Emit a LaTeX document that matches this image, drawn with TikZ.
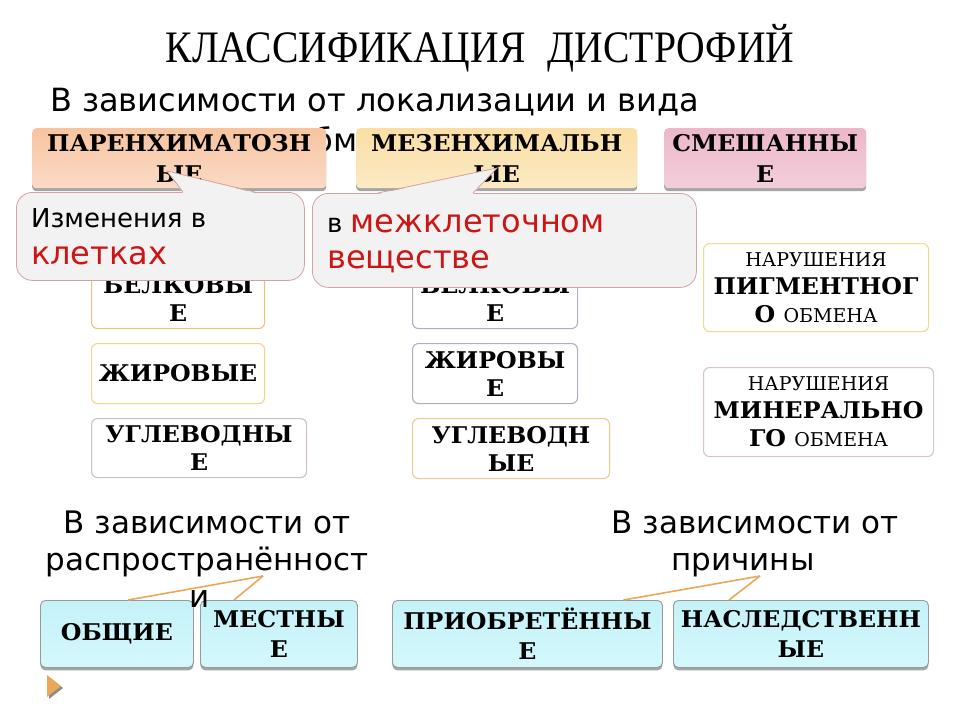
\documentclass[tikz,border=0pt]{standalone}
\usepackage{fontspec}
\setmainfont{DejaVu Sans}
\newfontfamily\titlefont[FakeStretch=0.88]{Liberation Serif}
\newfontfamily\bx[FakeStretch=1.03]{DejaVu Serif}
\newfontfamily\rgserif{DejaVu Serif}
\usetikzlibrary{shadows,calc,backgrounds}
\definecolor{treeor}{HTML}{ECA85A}
\definecolor{callfill}{HTML}{F2F2F2}
\definecolor{callline}{HTML}{D4A2A2}
\definecolor{redtxt}{HTML}{CC1616}
\definecolor{cyantop}{HTML}{C4F2F8}
\definecolor{cyanbot}{HTML}{D4F8FC}
\newcommand\regtxt[1]{{\rgserif\mdseries\fontsize{19}{28}\selectfont #1}}
\tikzset{
  hdr/.style={rounded corners=4pt, anchor=north west, inner sep=0pt, align=center,
    font=\bx\bfseries\fontsize{23}{31}\selectfont,
    drop shadow={shadow xshift=0pt, shadow yshift=-3pt, fill=black!50, opacity=0.7}},
  tbox/.style={line width=1.1pt, fill=white, rounded corners=6pt, anchor=north west,
    inner sep=0pt, align=center, font=\bx\bfseries\fontsize{23}{28}\selectfont},
  bbox/.style={draw=black!40, line width=0.9pt, top color=cyantop, bottom color=cyanbot,
    rounded corners=5pt, anchor=north west, inner sep=0pt, align=center,
    font=\bx\bfseries\fontsize{23}{30}\selectfont,
    drop shadow={shadow xshift=0pt, shadow yshift=-3pt, fill=black!50, opacity=0.7}},
  tree/.style={draw=treeor, line width=2.2pt},
  conn/.style={draw=treeor, line width=1.6pt},
  callbox/.style={draw=callline, line width=0.8pt, fill=callfill, rounded corners=16pt,
    anchor=north west, inner sep=0pt},
  ctxt/.style={anchor=base west, inner sep=0pt},
  lowtxt/.style={anchor=base, inner sep=0pt, font=\fontsize{31}{31}\selectfont},
}
\begin{document}
\begin{tikzpicture}[x=1pt,y=-1pt]
\useasboundingbox (0,0) rectangle (960,720);
\fill[white] (0,0) rectangle (960,720);

% title and subtitle
\node[anchor=base, inner sep=0pt, font=\titlefont\fontsize{45}{45}\selectfont] (title) at (480,62) {КЛАССИФИКАЦИЯ\hspace{0.5em}ДИСТРОФИЙ};
\node[anchor=base west, inner sep=0pt, font=\fontsize{32}{32}\selectfont] (sub1) at (50,111) {В зависимости от локализации и вида};
\node[anchor=base west, inner sep=0pt, font=\fontsize{32}{32}\selectfont] (sub2) at (294,151) {обмена};

% header boxes
\node[hdr, top color={rgb,255:red,247;green,196;blue,160}, bottom color={rgb,255:red,251;green,218;blue,198}, minimum width=294pt, minimum height=60pt] (h1) at (32,128) {ПАРЕНХИМАТОЗН\\ЫЕ};
\node[hdr, top color={rgb,255:red,250;green,222;blue,165}, bottom color={rgb,255:red,252;green,234;blue,196}, minimum width=281pt, minimum height=60pt] (h2) at (356,128) {МЕЗЕНХИМАЛЬН\\ЫЕ};
\node[hdr, top color={rgb,255:red,236;green,184;blue,202}, bottom color={rgb,255:red,243;green,206;blue,218}, minimum width=202pt, minimum height=60pt] (h3) at (664,128) {СМЕШАННЫ\\Е};

% tree roots
\coordinate (t1) at ($(h1.south west)+(30,0)$);
\coordinate (t2) at ($(h2.south west)+(29,0)$);
\coordinate (t3) at ($(h3.south west)+(19,0)$);

% tree boxes
\node[tbox, draw={rgb,255:red,237;green,194;blue,122}, minimum width=173pt, minimum height=60pt] (lb1) at (91,268) {БЕЛКОВЫ\\Е};
\node[tbox, draw={rgb,255:red,242;green,214;blue,138}, minimum width=173pt, minimum height=60pt] (lb2) at (91,343) {ЖИРОВЫЕ};
\node[tbox, draw={rgb,255:red,205;green,191;blue,198}, minimum width=215pt, minimum height=59pt] (lb3) at (91,418) {УГЛЕВОДНЫ\\Е};
\node[tbox, draw={rgb,255:red,170;green,176;blue,196}, minimum width=165pt, minimum height=60pt] (mb1) at (412,268) {БЕЛКОВЫ\\Е};
\node[tbox, draw={rgb,255:red,170;green,176;blue,196}, minimum width=165pt, minimum height=60pt] (mb2) at (412,343) {ЖИРОВЫ\\Е};
\node[tbox, draw={rgb,255:red,239;green,200;blue,142}, minimum width=197pt, minimum height=60pt] (mb3) at (412,418) {УГЛЕВОДН\\ЫЕ};
\node[tbox, draw={rgb,255:red,238;green,220;blue,140}, minimum width=225pt, minimum height=88pt] (rb1) at (703,243) {\regtxt{НАРУШЕНИЯ}\\ПИГМЕНТНОГ\\О \regtxt{ОБМЕНА}};
\node[tbox, draw={rgb,255:red,216;green,196;blue,202}, minimum width=230pt, minimum height=89pt] (rb2) at (703,367) {\regtxt{НАРУШЕНИЯ}\\МИНЕРАЛЬНО\\ГО \regtxt{ОБМЕНА}};

% tree connectors
\begin{pgfonlayer}{background}
\draw[tree] (t1) |- (lb1.west);
\draw[tree] (t1) |- (lb2.west);
\draw[tree] (t1) |- (lb3.west);
\draw[tree] (t2) |- (mb1.west);
\draw[tree] (t2) |- (mb2.west);
\draw[tree] (t2) |- (mb3.west);
\draw[tree] (t3) |- (rb1.west);
\draw[tree] (t3) |- (rb2.west);
\end{pgfonlayer}

% callouts
\node[callbox, minimum width=288pt, minimum height=88pt] (c1) at (16,192) {};
\coordinate (c1tip) at (167,171);
\fill[callfill] ($(c1.north west)+(167,1)$) -- (c1tip) -- ($(c1.north west)+(239,1)$) -- cycle;
\draw[callline, line width=0.8pt] ($(c1.north west)+(167,0)$) -- (c1tip) -- ($(c1.north west)+(239,0)$);
\node[ctxt, font=\fontsize{26}{26}\selectfont] (c1a) at (31,227) {Изменения в};
\node[ctxt, font=\fontsize{32}{32}\selectfont, text=redtxt] (c1b) at (31,264) {клетках};

\node[callbox, minimum width=384pt, minimum height=94pt] (c2) at (312,193) {};
\coordinate (c2tip) at (497,168);
\fill[callfill] ($(c2.north west)+(66,1)$) -- (c2tip) -- ($(c2.north west)+(161,1)$) -- cycle;
\draw[callline, line width=0.8pt] ($(c2.north west)+(66,0)$) -- (c2tip) -- ($(c2.north west)+(161,0)$);
\node[ctxt, font=\fontsize{26}{26}\selectfont] (c2a) at (327,232) {в \textcolor{redtxt}{\fontsize{32}{32}\selectfont межклеточном}};
\node[ctxt, font=\fontsize{32}{32}\selectfont, text=redtxt] (c2b) at (327,268) {веществе};

% bottom boxes
\node[bbox, minimum width=153pt, minimum height=67pt] (bb1) at (40,600) {ОБЩИЕ};
\node[bbox, minimum width=157pt, minimum height=67pt] (bb2) at (200,600) {МЕСТНЫ\\Е};
\node[bbox, minimum width=270pt, minimum height=67pt] (bb3) at (392,600) {ПРИОБРЕТЁННЫ\\Е};
\node[bbox, minimum width=255pt, minimum height=67pt] (bb4) at (673,600) {НАСЛЕДСТВЕНН\\ЫЕ};

\begin{pgfonlayer}{background}
\draw[treeor, dashed, line width=0.8pt] (bb1.south east) -- (bb4.south west);
\end{pgfonlayer}

% bottom texts
\node[lowtxt] (lt1) at (207,533) {В зависимости от};
\node[lowtxt] (lt2) at (207,570) {распространённост};
\node[lowtxt] (lt3) at (200,607) {и};
\node[lowtxt] (rt1) at (755,533) {В зависимости от};
\node[lowtxt] (rt2) at (743,570) {причины};

\coordinate (lj) at (263,576);
\coordinate (rj) at (760,576);
\draw[conn] (lj) -- ($(bb1.north)+(11,0)$);
\draw[conn] (lj) -- ($(bb2.north)+(-45,0)$);
\draw[conn] (rj) -- ($(bb3.north)+(96,0)$);
\draw[conn] (rj) -- ($(bb4.north)+(-72,0)$);

% bullet
\fill[black!45] (49,677) -- (63,688) -- (49,699) -- cycle;
\fill[treeor] (47,675) -- (61,686) -- (47,697) -- cycle;
\end{tikzpicture}
\end{document}
